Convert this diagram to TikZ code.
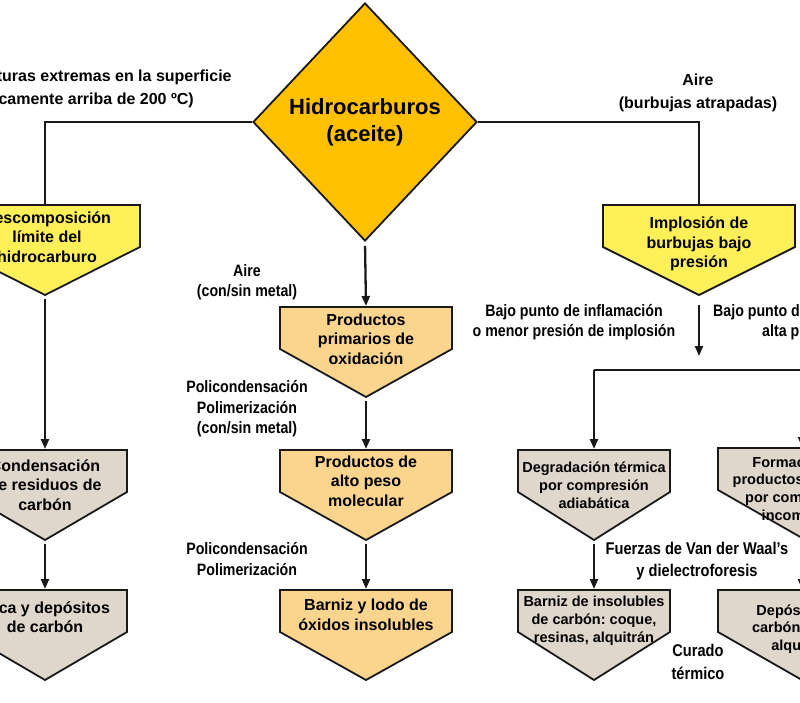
\documentclass[tikz,border=0pt]{standalone}
\usepackage{fontspec}
\setmainfont{Liberation Sans}
\newfontfamily\narrowsans[FakeStretch=0.86]{Liberation Sans}
\usetikzlibrary{shapes.geometric,arrows.meta}
\frenchspacing

\definecolor{oilorange}{RGB}{255,192,0}
\definecolor{boxyellow}{RGB}{255,240,90}
\definecolor{boxpeach}{RGB}{251,212,142}
\definecolor{boxbeige}{RGB}{223,215,204}
\definecolor{edgegray}{RGB}{25,25,25}

% pentagon box: name, centre x, top y, half width, fill colour
\newcommand{\pbox}[5]{%
  \filldraw[boxline,fill=#5] (#2-#4,#3) -- (#2+#4,#3) -- (#2+#4,#3+42) -- (#2,#3+90) -- (#2-#4,#3+42) -- cycle;
  \coordinate (#1-top) at (#2,#3);
  \coordinate (#1-tip) at (#2,#3+90);}

\begin{document}
\begin{tikzpicture}
  [x=1pt,y=-1pt,
   boxline/.style={draw=edgegray,line width=1.8pt,line join=miter},
   conn/.style={draw=edgegray,line width=2.3pt},
   arr/.style={conn,-{Triangle[length=10pt,width=8pt]},shorten <=4pt,shorten >=1pt},
   boxtext/.style={font=\bfseries\fontsize{16}{19.5}\selectfont,align=center,inner sep=0pt},
   smalltext/.style={font=\bfseries\fontsize{14.5}{17.8}\selectfont,align=center,inner sep=0pt},
   lbl/.style={font=\narrowsans\bfseries\fontsize{16.5}{20.5}\selectfont,align=center,inner sep=0pt},
   toplbl/.style={font=\bfseries\fontsize{16}{23.5}\selectfont,align=center,inner sep=0pt}]
  \useasboundingbox (0,0) rectangle (800,703);
  \clip (0,0) rectangle (800,703);

  % oil
  \node[diamond,draw=edgegray,line width=1.8pt,fill=oilorange,aspect=0.94,
        minimum width=224pt,minimum height=238pt,inner sep=0pt,
        font=\bfseries\fontsize{22}{27}\selectfont,align=center] (hc) at (365,122) {Hidrocarburos\\(aceite)};

  % left column
  \pbox{desc}{45}{205}{95}{boxyellow}
  \pbox{cond}{45}{450}{82}{boxbeige}
  \pbox{laca}{45}{590}{82}{boxbeige}
  \node[boxtext] (n1) at (47,237) {Descomposición\\límite del\\hidrocarburo};
  \node[boxtext] (n2) at (45,485) {Condensación\\de residuos de\\carbón};
  \node[boxtext] (n3) at (45,617) {Laca y depósitos\\de carbón};

  % centre column
  \pbox{prim}{366}{307}{86}{boxpeach}
  \pbox{alto}{366}{450}{86}{boxpeach}
  \pbox{barn}{366}{590}{86}{boxpeach}
  \node[boxtext] (n4) at (366,339) {Productos\\primarios de\\oxidación};
  \node[boxtext] (n5) at (366,481) {Productos de\\alto peso\\molecular};
  \node[boxtext] (n6) at (366,615) {Barniz y lodo de\\óxidos insolubles};

  % right columns
  \pbox{impl}{699}{205}{96}{boxyellow}
  \pbox{degr}{594}{450}{76}{boxbeige}
  \pbox{barc}{594}{590}{76}{boxbeige}
  \pbox{form}{802}{448}{84}{boxbeige}
  \pbox{depo}{802}{590}{84}{boxbeige}
  \node[boxtext] (n7) at (699,244) {Implosión de\\burbujas bajo\\presión};
  \node[smalltext] (n8) at (594,485) {Degradación térmica\\por compresión\\adiabática};
  \node[smalltext] (n9) at (594,621) {Barniz de insolubles\\de carbón: coque,\\resinas, alquitrán};
  \node[smalltext] (n10) at (800,490) {Formación de\\productos de hollín\\por combustión\\incompleta};
  \node[smalltext] (n11) at (802,629) {Depósitos de\\carbón: hollín,\\alquitrán};

  % labels
  \node[toplbl] (t1) at (81.5,89) {Temperaturas extremas en la superficie\\(típicamente arriba de 200 ºC)};
  \node[toplbl] (t2) at (698,93) {Aire\\(burbujas atrapadas)};
  \node[lbl] (t3) at (247,282) {Aire\\(con/sin metal)};
  \node[lbl] (t4) at (247,409) {Policondensación\\Polimerización\\(con/sin metal)};
  \node[lbl] (t5) at (247,559) {Policondensación\\Polimerización};
  \node[lbl] (t6) at (574,322) {Bajo punto de inflamación\\o menor presión de implosión};
  \node[lbl,anchor=west,align=left] (t7) at (713,322) {Bajo punto de inflamación o\\\hspace*{49pt}alta presión de implosión};
  \node[lbl,font=\narrowsans\bfseries\fontsize{17}{22}\selectfont] (t8) at (697,561) {Fuerzas de Van der Waal’s\\y dielectroforesis};
  \node[lbl,font=\narrowsans\bfseries\fontsize{17}{23}\selectfont] (t9) at (698,662) {Curado\\térmico};

  % connectors
  \coordinate (split) at (699,357);
  \coordinate (forkL) at (594,370);
  \coordinate (forkR) at (802,370);
  \draw[conn] (hc.west) -| (desc-top);
  \draw[conn] (hc.east) -| (impl-top);
  \draw[arr] (hc.south) -- (prim-top);
  \draw[conn] (forkL) -- (forkR);
  \foreach \from/\to in {desc/cond,cond/laca,prim/alto,alto/barn,degr/barc,form/depo}
    \draw[arr] (\from-tip) -- (\to-top);
  \draw[arr,shorten <=10pt] (impl-tip) -- (split);
  \draw[arr,shorten <=0pt] (forkL) -- (degr-top);
  \draw[arr,shorten <=0pt] (forkR) -- (form-top);
\end{tikzpicture}
\end{document}
